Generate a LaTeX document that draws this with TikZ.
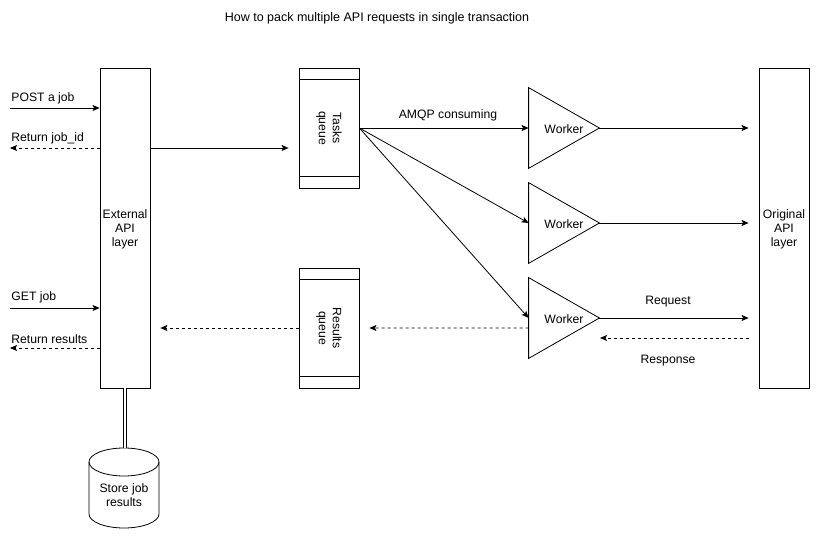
\documentclass[tikz,border=0pt]{standalone}
\usepackage{fontspec}
\setmainfont{Liberation Sans}
\usetikzlibrary{arrows.meta}
\begin{document}
\begin{tikzpicture}[x=1bp,y=-1bp,
  font=\fontsize{12.2bp}{14bp}\selectfont,
  line width=0.8bp,
  box/.style={draw, minimum width=50bp, minimum height=320bp, inner sep=0pt, align=center},
  queuebox/.style={draw, minimum width=60bp, minimum height=120bp, inner sep=0pt},
  workerbox/.style={minimum width=70bp, minimum height=80bp, inner sep=0pt},
  arr/.style={-{Stealth[length=7bp,width=6bp,inset=1.5bp]}},
  dsh/.style={arr, dash pattern=on 3bp off 3bp},
  lbl/.style={inner sep=0pt, anchor=west}]
\useasboundingbox (0,0) rectangle (825,550);

\node[font=\fontsize{12.5bp}{14bp}\selectfont] (title) at (377,18) {How to pack multiple API requests in single transaction};

% main boxes
\node[box] (ext) at (125,228) {};
\node[align=center] at ([yshift=-1bp]ext.center) {External\\API\\layer};
\node[box] (orig) at (784,228) {};
\node[align=center] at ([yshift=-1bp]orig.center) {Original\\API\\layer};

% queues
\node[queuebox] (tq) at (329,128) {};
\draw ([yshift=-12bp]tq.north west) -- ([yshift=-12bp]tq.north east);
\draw ([yshift=12bp]tq.south west) -- ([yshift=12bp]tq.south east);
\node[rotate=-90, align=center] at (tq) {Tasks\\queue};

\node[queuebox] (rq) at (329,328) {};
\draw ([yshift=-12bp]rq.north west) -- ([yshift=-12bp]rq.north east);
\draw ([yshift=12bp]rq.south west) -- ([yshift=12bp]rq.south east);
\node[rotate=-90, align=center] at (rq) {Results\\queue};

% workers
\foreach \n/\y in {w1/128, w2/223, w3/318}{
  \node[workerbox] (\n) at (564,\y) {};
  \draw (\n.north west) -- (\n.east) -- (\n.south west) -- cycle;
  \node at ([yshift=-1bp]\n.center) {Worker};
}

% database
\node[workerbox] (db) at (124,488) {};
\draw[fill=white] (89,462) -- (89,514) arc[start angle=180, end angle=360, x radius=35bp, y radius=14bp] -- (159,462);
\draw (124,462) ellipse [x radius=35bp, y radius=14bp];
\node[align=center] at (124,495) {Store job\\results};
\draw[double, double distance=2.2bp] (ext.south) -- (ext.south |- db.north);

% client side connectors
\coordinate (c1) at (10,108);
\coordinate (c2) at (10,148);
\coordinate (c3) at (10,308);
\coordinate (c4) at (10,348);
\draw[arr] (c1) -- (ext.west |- c1);
\draw[dsh] (ext.west |- c2) -- (c2);
\draw[arr] (c3) -- (ext.west |- c3);
\draw[dsh] (ext.west |- c4) -- (c4);
\node[lbl] at (11,98) {POST a job};
\node[lbl] at (11,138) {Return job\_id};
\node[lbl] at (11,297) {GET job};
\node[lbl] at (11,339) {Return results};

% ext -> tasks queue
\draw[arr] (ext.east |- c2) -- ([xshift=-10bp]tq.west |- c2);

% tasks -> workers
\draw[arr] (tq.east) -- (w1.west);
\draw[arr] (tq.east) -- (w2.west);
\draw[arr] (tq.east) -- (w3.west);
\node at (448,115) {AMQP consuming};

% results path
\draw[dsh] ([yshift=-10bp]w3.west) -- ([xshift=10bp]rq.east);
\draw[dsh] (rq.west) -- ([xshift=10bp]ext.east |- rq.west);

% workers -> original API
\draw[arr] (w1.east) -- ([xshift=-10bp]orig.west |- w1.east);
\draw[arr] (w2.east) -- ([xshift=-10bp]orig.west |- w2.east);
\draw[arr] (w3.east) -- ([xshift=-10bp]orig.west |- w3.east);
\coordinate (resp) at (600,338);
\draw[dsh] ([xshift=-10bp]orig.west |- resp) -- (resp);
\node at (668,302) {Request};
\node at (668,361) {Response};
\end{tikzpicture}
\end{document}
